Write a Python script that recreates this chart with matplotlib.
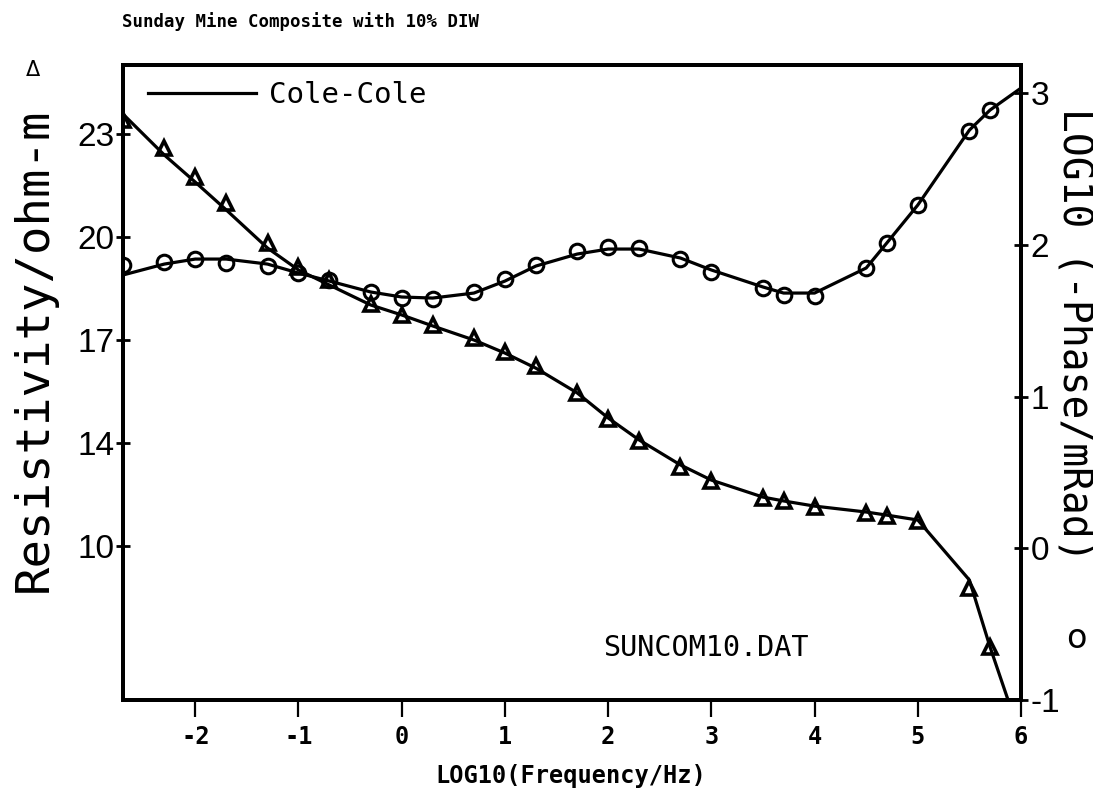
import numpy as np
import matplotlib
matplotlib.use("Agg")
import matplotlib.pyplot as plt
from matplotlib.ticker import FixedLocator, NullLocator
from matplotlib.lines import Line2D

plt.rcParams["axes.unicode_minus"] = False

# Measured data: log10 frequency, resistivity (ohm-m) and log10(-phase/mrad)
log_freq = [-2.7, -2.3, -2.0, -1.7, -1.3, -1.0, -0.7, -0.3, 0.0, 0.3, 0.7, 1.0, 1.3,
            1.7, 2.0, 2.3, 2.7, 3.0, 3.5, 3.7, 4.0, 4.5, 4.7, 5.0, 5.5, 5.7]
resistivity = [23.41, 22.59, 21.75, 20.99, 19.83, 19.13, 18.75, 18.05, 17.73, 17.44,
               17.06, 16.65, 16.24, 15.46, 14.70, 14.06, 13.07, 12.52, 11.86, 11.75,
               11.51, 11.28, 11.17, 10.97, 8.37, 6.08]
log_phase = [1.867, 1.886, 1.906, 1.880, 1.860, 1.814, 1.768, 1.689, 1.649, 1.643,
             1.689, 1.774, 1.867, 1.959, 1.985, 1.979, 1.906, 1.820, 1.715, 1.669,
             1.662, 1.847, 2.012, 2.262, 2.750, 2.888]

# Cole-Cole model curves
fit_freq = [-2.7, -2.3, -2.0, -1.7, -1.3, -1.0, -0.7, -0.3, 0.0, 0.3, 0.7, 1.0, 1.3,
            1.7, 2.0, 2.3, 2.7, 3.0, 3.5, 3.7, 4.0, 4.5, 4.7, 5.0, 5.5, 5.7, 6.0]
fit_resistivity = [23.58, 22.39, 21.60, 20.79, 19.68, 19.04, 18.60, 18.02, 17.73, 17.41,
                   17.00, 16.62, 16.18, 15.46, 14.73, 14.09, 13.15, 12.56, 11.90, 11.75,
                   11.55, 11.32, 11.20, 11.01, 8.68, 6.08, 2.54]
fit_log_phase = [1.801, 1.873, 1.906, 1.906, 1.873, 1.814, 1.761, 1.689, 1.656, 1.649,
                 1.682, 1.761, 1.860, 1.939, 1.972, 1.972, 1.913, 1.834, 1.722, 1.682,
                 1.682, 1.847, 2.012, 2.262, 2.756, 2.888, 3.033]

x_ticks = [-2, -1, 0, 1, 2, 3, 4, 5, 6]
res_ticks = [10, 14, 17, 20, 23]
phase_ticks = [-1, 0, 1, 2, 3]

# resistivity axis: tick values are evenly spaced on the plot
res_knots = [0, 10, 14, 17, 20, 23, 29]
pos_knots = [-2.5, 0, 1, 2, 3, 4, 6]


def res_forward(v):
    return np.interp(v, res_knots, pos_knots)


def res_inverse(p):
    return np.interp(p, pos_knots, res_knots)


W, H = 1093, 799
fig = plt.figure(figsize=(W / 100, H / 100), dpi=100)
ax = fig.add_axes([123 / W, 1 - 700 / H, (1021 - 123) / W, (700 - 65) / H])
ax2 = ax.twinx()

mono = "DejaVu Sans Mono"
sans = "Liberation Sans"
lw = 2.3

# resistivity (triangles)
ax.set_yscale("function", functions=(res_forward, res_inverse))
ax.plot(fit_freq, fit_resistivity, color="black", lw=lw, zorder=3)
ax.plot(log_freq, resistivity, linestyle="none", marker="^", markersize=10.5,
        markerfacecolor="none", markeredgecolor="black", markeredgewidth=2.6, zorder=4)

# phase (circles)
ax2.plot(fit_freq, fit_log_phase, color="black", lw=lw, zorder=3)
ax2.plot(log_freq, log_phase, linestyle="none", marker="o", markersize=10.5,
         markerfacecolor="none", markeredgecolor="black", markeredgewidth=2.2, zorder=4)

ax.set_xlim(-2.7, 6.0)
ax.set_ylim(4.02, 25.01)
ax2.set_ylim(-1.0, 3.185)

ax.xaxis.set_major_locator(FixedLocator(x_ticks))
ax.set_xticklabels([str(t) for t in x_ticks], fontfamily=mono, fontweight="bold", fontsize=17)
ax.yaxis.set_major_locator(FixedLocator(res_ticks))
ax.yaxis.set_minor_locator(NullLocator())
ax.set_yticklabels([str(t) for t in res_ticks], fontfamily=sans, fontsize=24)
ax2.yaxis.set_major_locator(FixedLocator(phase_ticks))
ax2.set_yticklabels([str(t) for t in phase_ticks], fontfamily=sans, fontsize=24)

ax.tick_params(axis="x", direction="out", length=12, width=1.6, pad=6)
ax.tick_params(axis="y", direction="inout", length=10, width=2, pad=1)
ax2.tick_params(axis="y", direction="inout", length=10, width=2, pad=2)

for a in (ax, ax2):
    for s in a.spines.values():
        s.set_linewidth(2.8)

# legend for the model curve
handle = Line2D([], [], color="black", lw=lw)
ax.legend([handle], ["Cole-Cole"], loc="center left",
          bbox_to_anchor=((148 - 123) / 898, (700 - 95) / 635),
          frameon=False, borderpad=0, borderaxespad=0, handlelength=3.7,
          handletextpad=0.45, prop={"family": mono, "size": 21})

ax.text((706 - 123) / 898, (700 - 648) / 635, "SUNCOM10.DAT", transform=ax.transAxes,
        ha="center", va="center", fontfamily=mono, fontsize=20.5)

fig.text(122 / W, 1 - 22 / H, "Sunday Mine Composite with 10% DIW", ha="left", va="center",
         fontfamily=mono, fontweight="bold", fontsize=12.5)
fig.text(571 / W, 1 - 776 / H, "LOG10(Frequency/Hz)", ha="center", va="center",
         fontfamily=mono, fontweight="bold", fontsize=17)
fig.text(34 / W, 1 - 350 / H, "Resistivity/ohm-m", rotation=90, ha="center", va="center",
         fontfamily=mono, fontsize=34)
fig.text(33 / W, 1 - 70 / H, "\u0394", ha="center", va="center", fontfamily="DejaVu Sans",
         fontsize=15)
fig.text(1074 / W, 1 - 335 / H, "LOG10 (-Phase/mRad)", rotation=-90, ha="center", va="center",
         fontfamily=mono, fontsize=28.5)
fig.text(1076 / W, 1 - 638 / H, "o", ha="center", va="center", fontfamily="DejaVu Sans",
         fontsize=24)

fig.savefig("out.png", dpi=100)
